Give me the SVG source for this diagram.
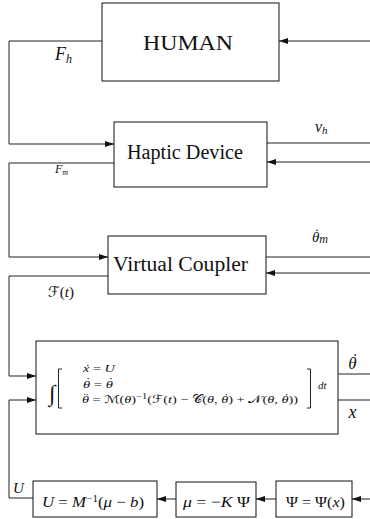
<svg xmlns="http://www.w3.org/2000/svg" width="370" height="519" viewBox="0 0 370 519">
  <style>
    .box { fill: #fff; stroke: #111; stroke-width: 1; }
    .wire { fill: none; stroke: #222; stroke-width: 1; }
    .title { font-family: "Liberation Serif", "Times New Roman", serif; fill: #111; text-anchor: middle; }
    .math { font-family: "Liberation Serif", "DejaVu Serif", serif; font-style: italic; fill: #111; }
    .up { font-style: normal; }
    .cal { font-family: "DejaVu Sans", "Noto Sans", serif; font-style: normal; }
  </style>
  <defs>
    <marker id="arrow" markerUnits="userSpaceOnUse" markerWidth="9" markerHeight="6" refX="9" refY="3" orient="auto">
      <path d="M0,0 L9,3 L0,6 z" fill="#111"/>
    </marker>
  </defs>

  <!-- signal lines between the blocks -->
  <g id="connectors">
    <path class="wire" d="M102,41 H9 V144 H114" marker-end="url(#arrow)"/>
    <path class="wire" d="M370,41 H279" marker-end="url(#arrow)"/>
    <path class="wire" d="M267,143 H370"/>
    <path class="wire" d="M370,162 H267" marker-end="url(#arrow)"/>
    <path class="wire" d="M114,163 H9 V257 H108" marker-end="url(#arrow)"/>
    <path class="wire" d="M266,257 H370"/>
    <path class="wire" d="M370,273 H266" marker-end="url(#arrow)"/>
    <path class="wire" d="M108,276 H9 V376 H36" marker-end="url(#arrow)"/>
    <path class="wire" d="M338,374 H370"/>
    <path class="wire" d="M338,400 H370"/>
    <path class="wire" d="M33,498 H9 V400 H36" marker-end="url(#arrow)"/>
    <path class="wire" d="M370,499 H352" marker-end="url(#arrow)"/>
    <path class="wire" d="M276,499 H256" marker-end="url(#arrow)"/>
    <path class="wire" d="M176,499 H157" marker-end="url(#arrow)"/>
  </g>

  <!-- signal labels -->
  <g id="labels">
    <text class="math" x="55" y="60" font-size="18">F<tspan font-size="12" dy="3">h</tspan></text>
    <text class="math" x="55" y="173" font-size="12">F<tspan font-size="8" dy="2">m</tspan></text>
    <text class="math" x="315" y="132" font-size="16">v<tspan font-size="11" dy="2">h</tspan></text>
    <text class="math" x="312" y="242" font-size="15">θ<tspan dx="-6" dy="-3.5">˙</tspan><tspan font-size="12" dx="0.8" dy="4.5">m</tspan></text>
    <text class="math" x="48" y="297" font-size="15"><tspan class="cal">ℱ</tspan><tspan class="up">(</tspan>t<tspan class="up">)</tspan></text>
    <text class="math" x="352.5" y="369" font-size="17" text-anchor="middle">θ</text>
    <text class="math" x="354" y="365" font-size="17" text-anchor="middle">˙</text>
    <text class="math" x="352.5" y="418" font-size="18" text-anchor="middle">x</text>
    <text class="math" x="13" y="493" font-size="15">U</text>
  </g>

  <g id="human">
    <rect class="box" x="102" y="3" width="177" height="78"/>
    <text class="title" x="188" y="50" font-size="22" textLength="90" lengthAdjust="spacingAndGlyphs">HUMAN</text>
  </g>

  <g id="haptic-device">
    <rect class="box" x="114" y="122" width="153" height="65"/>
    <text class="title" x="185" y="159" font-size="20" textLength="116" lengthAdjust="spacingAndGlyphs">Haptic Device</text>
  </g>

  <g id="virtual-coupler">
    <rect class="box" x="108" y="236" width="158" height="58"/>
    <text class="title" x="180.5" y="271" font-size="20" textLength="135" lengthAdjust="spacingAndGlyphs">Virtual Coupler</text>
  </g>

  <g id="dynamics">
    <rect class="box" x="36" y="341" width="302" height="93"/>
    <text class="math up" x="49" y="401" font-size="23">∫</text>
    <path class="wire" d="M62,369 H58.5 V408 H62"/>
    <path class="wire" d="M307,369 H310.5 V408 H307"/>
    <!-- state equations; accents are placed over their base letters with dx/dy -->
    <text class="math" x="83" y="372" font-size="11" textLength="32" lengthAdjust="spacingAndGlyphs">x<tspan dx="-3.8">˙</tspan><tspan class="up" dx="0.1"> = </tspan>U</text>
    <text class="math" x="83" y="387.5" font-size="11" textLength="30" lengthAdjust="spacingAndGlyphs">θ<tspan dx="-4.1" dy="-2.5">˙</tspan><tspan class="up" dx="0.4" dy="2.5"> = </tspan>θ<tspan dx="-4.1" dy="-2.5">˙</tspan></text>
    <text class="math" x="82" y="403" font-size="11" textLength="216" lengthAdjust="spacingAndGlyphs">θ<tspan class="up" dx="-4.1" dy="-2.5">¨</tspan><tspan class="up" dx="0.4" dy="2.5"> = </tspan><tspan class="cal">ℳ</tspan><tspan class="up">(</tspan>θ<tspan class="up">)</tspan><tspan class="up" font-size="8" dy="-4">−1</tspan><tspan class="up" dy="4">(</tspan><tspan class="cal">ℱ</tspan><tspan class="up">(</tspan>t<tspan class="up">) − </tspan><tspan class="cal">𝒞</tspan><tspan class="up">(</tspan>θ<tspan class="up">, </tspan>θ<tspan dx="-4.1" dy="-2.5">˙</tspan><tspan class="up" dx="0.4" dy="2.5">) + </tspan><tspan class="cal">𝒩</tspan><tspan class="up">(</tspan>θ<tspan class="up">, </tspan>θ<tspan dx="-4.1" dy="-2.5">˙</tspan><tspan class="up" dx="0.4" dy="2.5">))</tspan></text>
    <text class="math" x="318" y="389" font-size="11">dt</text>
  </g>

  <g id="input-law">
    <rect class="box" x="33" y="481" width="124" height="36"/>
    <text class="math" x="42" y="507" font-size="15" textLength="102" lengthAdjust="spacingAndGlyphs">U<tspan class="up"> = </tspan>M<tspan class="up" font-size="10" dy="-5">−1</tspan><tspan class="up" dy="5">(</tspan>μ<tspan class="up"> − </tspan>b<tspan class="up">)</tspan></text>
  </g>

  <g id="gain">
    <rect class="box" x="176" y="482" width="80" height="35"/>
    <text class="math" x="183" y="507" font-size="15" textLength="67" lengthAdjust="spacingAndGlyphs">μ<tspan class="up"> = −</tspan>K<tspan class="up"> Ψ</tspan></text>
  </g>

  <g id="lyapunov">
    <rect class="box" x="276" y="481" width="76" height="36"/>
    <text class="math" x="286" y="507" font-size="15" textLength="59" lengthAdjust="spacingAndGlyphs"><tspan class="up">Ψ = Ψ(</tspan>x<tspan class="up">)</tspan></text>
  </g>
</svg>
